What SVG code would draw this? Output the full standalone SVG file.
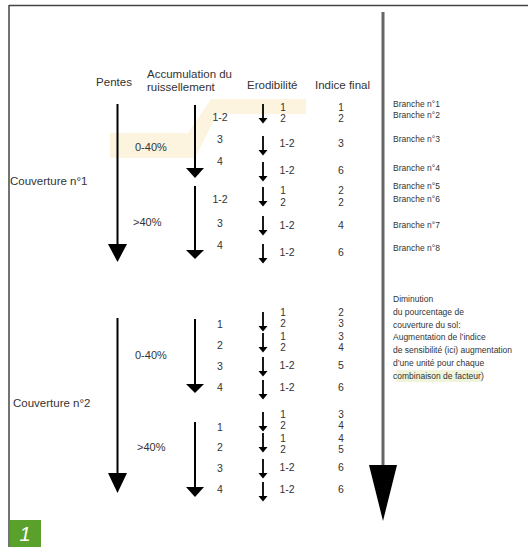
<svg xmlns="http://www.w3.org/2000/svg" width="528" height="547" viewBox="0 0 528 547">
<style>
text{font-family:"Liberation Sans",Arial,sans-serif;fill:#333;dominant-baseline:central}
.h{font-size:11.5px}
.c{font-size:11.5px}
.p{font-size:11px}
.n{font-size:10.5px}
.s{font-size:10px}
.b{font-size:8.5px}
.t{font-size:8.5px}
.mid{text-anchor:middle}
.sh{stroke:#000;stroke-width:2;fill:none}
.ss{stroke:#000;stroke-width:1.8;fill:none}
</style>
<defs>
<g id="sa"><line x1="0" y1="0" x2="0" y2="16" class="ss"/><polygon points="-4.5,14 4.5,14 0,19.5" fill="#000"/></g>
</defs>
<rect x="0" y="0" width="528" height="547" fill="#fff"/>
<g id="frame" fill="none" stroke="#444" stroke-width="1.5">
<line x1="9" y1="5.5" x2="528" y2="5.5"/>
<line x1="9" y1="5" x2="9" y2="547"/>
</g>
<g id="highlight">
<polygon points="110,133 188,133 211,99 306,99 306,114 217,114 195,158 110,158" fill="#fcf4df"/>
<rect x="396" y="370" width="86" height="12" fill="#f0f4da"/>
</g>
<g id="badge">
<rect x="10" y="520" width="31" height="27" fill="#5aa12b"/>
<text x="25" y="534" class="mid" style="font-size:20px;font-style:italic;fill:#fff">1</text>
</g>
<g id="headers">
<text id="h-pentes" x="114" y="82" class="h mid">Pentes</text>
<text id="h-accum" x="147" y="74" class="h">Accumulation du</text>
<text x="147" y="87" class="h">ruissellement</text>
<text id="h-erod" x="247" y="85" class="h">Erodibilité</text>
<text id="h-indice" x="315" y="85" class="h">Indice final</text>
</g>
<g id="connectors">
<line x1="383" y1="12" x2="383" y2="466" stroke="#666" stroke-width="3"/>
<polygon points="369,465 397,465 383,521" fill="#000"/>
<line x1="117.5" y1="104" x2="117.5" y2="245" class="sh"/>
<polygon points="108,244 127,244 117.5,262" fill="#000"/>
<line x1="117.5" y1="318" x2="117.5" y2="474" class="sh"/>
<polygon points="108,473 127,473 117.5,493" fill="#000"/>
<line x1="195" y1="105" x2="195" y2="170" class="sh"/>
<polygon points="186,168 204,168 195,178" fill="#000"/>
<line x1="195" y1="186" x2="195" y2="252" class="sh"/>
<polygon points="186,250 204,250 195,259" fill="#000"/>
<line x1="195" y1="319" x2="195" y2="386" class="sh"/>
<polygon points="186,384 204,384 195,393" fill="#000"/>
<line x1="195" y1="422" x2="195" y2="489" class="sh"/>
<polygon points="186,487 204,487 195,497" fill="#000"/>
<use href="#sa" x="263" y="104"/>
<use href="#sa" x="263" y="136"/>
<use href="#sa" x="263" y="162"/>
<use href="#sa" x="263" y="187"/>
<use href="#sa" x="263" y="216"/>
<use href="#sa" x="263" y="244"/>
<use href="#sa" x="263" y="312"/>
<use href="#sa" x="263" y="333"/>
<use href="#sa" x="263" y="357"/>
<use href="#sa" x="263" y="380"/>
<use href="#sa" x="263" y="412"/>
<use href="#sa" x="263" y="433"/>
<use href="#sa" x="263" y="459"/>
<use href="#sa" x="263" y="482"/>
</g>
<g id="cover1">
<text x="10" y="181" class="c">Couverture n°1</text>
<text x="135" y="147" class="p">0-40%</text>
<text x="133" y="222" class="p">&gt;40%</text>
</g>
<g id="cover2">
<text x="13" y="403" class="c">Couverture n°2</text>
<text x="135" y="355" class="p">0-40%</text>
<text x="137" y="447" class="p">&gt;40%</text>
</g>
<g id="accum">
<text x="220" y="117" class="n mid">1-2</text>
<text x="220" y="139" class="n mid">3</text>
<text x="220" y="161" class="n mid">4</text>
<text x="220" y="199" class="n mid">1-2</text>
<text x="220" y="223" class="n mid">3</text>
<text x="220" y="245" class="n mid">4</text>
<text x="220" y="324" class="n mid">1</text>
<text x="220" y="345" class="n mid">2</text>
<text x="220" y="366" class="n mid">3</text>
<text x="220" y="387" class="n mid">4</text>
<text x="220" y="427" class="n mid">1</text>
<text x="220" y="447" class="n mid">2</text>
<text x="220" y="468" class="n mid">3</text>
<text x="220" y="489" class="n mid">4</text>
</g>
<g id="erod">
<text x="283" y="107" class="s mid">1</text><text x="283" y="118" class="s mid">2</text>
<text x="287" y="143" class="n mid">1-2</text>
<text x="287" y="170" class="n mid">1-2</text>
<text x="283" y="190" class="s mid">1</text><text x="283" y="202" class="s mid">2</text>
<text x="287" y="225" class="n mid">1-2</text>
<text x="287" y="252" class="n mid">1-2</text>
<text x="283" y="312" class="s mid">1</text><text x="283" y="323" class="s mid">2</text>
<text x="283" y="336" class="s mid">1</text><text x="283" y="347" class="s mid">2</text>
<text x="287" y="365" class="n mid">1-2</text>
<text x="287" y="387" class="n mid">1-2</text>
<text x="283" y="414" class="s mid">1</text><text x="283" y="425" class="s mid">2</text>
<text x="283" y="438" class="s mid">1</text><text x="283" y="449" class="s mid">2</text>
<text x="287" y="467" class="n mid">1-2</text>
<text x="287" y="489" class="n mid">1-2</text>
</g>
<g id="indice">
<text x="341" y="107" class="s mid">1</text><text x="341" y="118" class="s mid">2</text>
<text x="341" y="143" class="n mid">3</text>
<text x="341" y="170" class="n mid">6</text>
<text x="341" y="190" class="s mid">2</text><text x="341" y="202" class="s mid">2</text>
<text x="341" y="225" class="n mid">4</text>
<text x="341" y="252" class="n mid">6</text>
<text x="341" y="312" class="s mid">2</text><text x="341" y="323" class="s mid">3</text>
<text x="341" y="336" class="s mid">3</text><text x="341" y="347" class="s mid">4</text>
<text x="341" y="365" class="n mid">5</text>
<text x="341" y="387" class="n mid">6</text>
<text x="341" y="414" class="s mid">3</text><text x="341" y="425" class="s mid">4</text>
<text x="341" y="438" class="s mid">4</text><text x="341" y="449" class="s mid">5</text>
<text x="341" y="467" class="n mid">6</text>
<text x="341" y="489" class="n mid">6</text>
</g>
<g id="branches">
<text x="393" y="104" class="b">Branche n°1</text>
<text x="393" y="115" class="b">Branche n°2</text>
<text x="393" y="139" class="b">Branche n°3</text>
<text x="393" y="168" class="b">Branche n°4</text>
<text x="393" y="186" class="b">Branche n°5</text>
<text x="393" y="199" class="b">Branche n°6</text>
<text x="393" y="225" class="b">Branche n°7</text>
<text x="393" y="248" class="b">Branche n°8</text>
</g>
<g id="note">
<text x="393" y="299" class="t">Diminution</text>
<text x="393" y="312" class="t">du pourcentage de</text>
<text x="393" y="325" class="t">couverture du sol:</text>
<text x="393" y="337" class="t">Augmentation de l’indice</text>
<text x="393" y="350" class="t">de sensibilité (ici) augmentation</text>
<text x="393" y="363" class="t">d’une unité pour chaque</text>
<text x="393" y="376" class="t">combinaison de facteur)</text>
</g>
</svg>
